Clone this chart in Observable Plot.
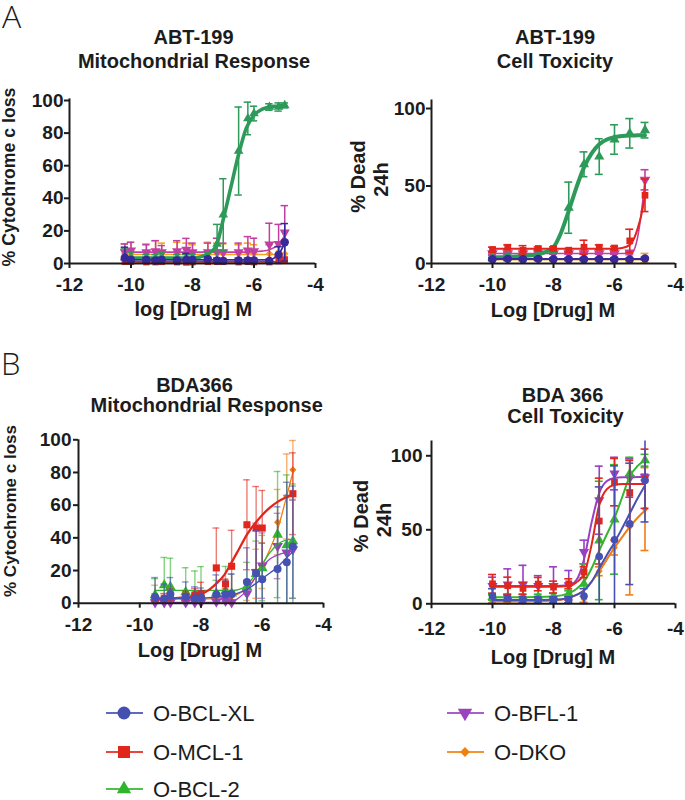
<!DOCTYPE html>
<html>
<head>
<meta charset="utf-8">
<script src="https://cdn.jsdelivr.net/npm/d3@7"></script>
<script src="https://cdn.jsdelivr.net/npm/@observablehq/plot@0.6"></script>
<style>
  html, body { margin: 0; padding: 0; background: #ffffff; }
  #root { position: relative; width: 685px; height: 800px; overflow: hidden; background: #fff; }
  #root svg.panel { position: absolute; overflow: visible; }
  #root svg.panel text { font-size: 19px !important; font-weight: bold !important; font-family: 'Liberation Sans', Arial, sans-serif !important; fill: #1c1c1c; }
  #overlay { position: absolute; left: 0; top: 0; pointer-events: none; }
</style>
</head>
<body>
<div id="root"></div>
<script>
// ---------------- series / legend ----------------
const seriesNames = ["O-BCL-XL", "O-MCL-1", "O-BCL-2", "O-BFL-1", "O-DKO"];
const colorsA = ["#38299a", "#e3241b", "#2e9a5a", "#c13fa3", "#f4a11c"];
const colorsB = ["#4651b4", "#e1261c", "#34b52f", "#9a3fc3", "#f17c12"];
const colorsLegend = ["#4350b0", "#e1261c", "#2fb52b", "#9b42bf", "#f08010"];
const xTicks = [-12, -10, -8, -6, -4];
const yTicksA1 = [0, 20, 40, 60, 80, 100];
const yTicksA2 = [0, 50, 100];
const yTicksB1 = [0, 20, 40, 60, 80, 100];
const yTicksB2 = [0, 50, 100];

// ---------------- Panel A left : ABT-199 Mitochondrial Response ----------------
const dosesA1 = [-10.2, -10, -9.5, -9.2, -9, -8.5, -8.2, -8, -7.5, -7.2, -7, -6.5, -6.2, -6, -5.5, -5.2, -5];
const a1XL     = [3.5, 2.2, 2.2, 1.8, 2.2, 1.8, 2.2, 2.2, 2.7, 1.8, 1.6, 1.8, 1.8, 1.8, 1.6, 5.3, 13];
const a1XLErr  = [6.5, 1.5, 1.5, 1.5, 1.5, 1.5, 4, 1.5, 1.5, 1.5, 1.5, 1.5, 1.5, 1.5, 1, 5, 11.5];
const a1MCL    = [1, 1, 0.8, 0.8, 1, 0.8, 0.6, 0.8, 1, 1, 1, 0.8, 1, 0.8, 0.8, 1.5, 2];
const a1MCLErr = [1.5, 1, 1, 1, 1, 1, 1.5, 1, 1, 1, 1, 1, 1, 1, 1, 2.5, 2];
const a1BCL2   = [4, 4, 3.5, 3.5, 4, 3.5, 3.5, 3.5, 4, 12, 30, 69, 89, 92, 96, 96, 97];
const a1BCL2Err= [5, 3, 2, 2, 2.5, 2, 2, 2, 3, 12, 22, 27, 10, 4.5, 2, 2.5, 1.5];
const a1BFL    = [7, 8, 7, 7.5, 7, 7.5, 8.4, 7, 7, 7, 7, 7, 8, 7.5, 11.7, 12, 19];
const a1BFLErr = [5, 5, 4.5, 6.5, 4, 6.5, 7, 5.5, 5.5, 8.5, 5.5, 5.5, 8.5, 8, 13, 12, 16.5];
const a1DKO    = [6, 6.5, 6, 7, 6.5, 6.5, 6, 6, 6.5, 6.5, 6, 6, 6.5, 6, 6, 7, 6];
const a1DKOErr = [6, 6.5, 6, 7, 6, 6.5, 6.5, 5.5, 6.5, 6, 6, 5.5, 6, 5.5, 5.5, 6, 6];
const gridA1   = [-10.2, -10, -9.5, -9, -8.5, -8, -7.75, -7.5, -7.25, -7, -6.75, -6.5, -6.25, -6, -5.75, -5.5, -5.25, -5];
const a1FitXL  = [2.2, 2.2, 2.2, 2.2, 2.2, 2.2, 2.2, 2.2, 2.2, 2.2, 2.2, 2.2, 2.2, 2.2, 2.2, 2.4, 4.5, 12.5];
const a1FitMCL = [1, 1, 1, 1, 1, 1, 1, 1, 1, 1, 1, 1, 1, 1, 1, 1, 1.2, 1.5];
const a1FitBCL2= [3.3, 3.3, 3.3, 3.3, 3.3, 3.4, 4, 6, 10, 27, 47, 67, 83, 91, 94.5, 96, 96.5, 97];
const a1FitBFL = [7, 7, 7, 7, 7, 7, 7, 7, 7, 7, 7, 7, 7, 7.2, 7.6, 8.5, 11, 17];
const a1FitDKO = [5.5, 5.5, 5.5, 5.5, 5.5, 5.5, 5.5, 5.5, 5.5, 5.5, 5.5, 5.5, 5.5, 5.5, 5.5, 5.5, 5.5, 5.5];

// ---------------- Panel A right : ABT-199 Cell Toxicity ----------------
const dosesA2 = [-10, -9.5, -9, -8.5, -8, -7.5, -7, -6.5, -6, -5.5, -5];
const a2XL     = [2.8, 3, 2.8, 3, 2.8, 2.8, 2.8, 2.8, 2.8, 2.6, 3.2];
const a2XLErr  = [0.8, 0.8, 0.8, 0.8, 0.8, 0.8, 0.8, 0.8, 0.8, 0.8, 0.8];
const a2MCL    = [9, 10.5, 8.5, 9.7, 9.7, 8.6, 10.5, 10.5, 10, 14.6, 44];
const a2MCLErr = [1.5, 1.5, 3, 1, 1, 1, 4.5, 1.5, 1, 7.5, 10.5];
const a2BCL2   = [4, 4.5, 4.5, 5, 8, 36, 64, 69, 80, 84, 86];
const a2BCL2Err= [1, 1, 1, 1, 1.5, 16.5, 8, 11.5, 9.5, 9.5, 5];
const a2BFL    = [6.5, 6.5, 6.5, 6.5, 6.5, 6.5, 6.5, 6.5, 6.5, 7, 54];
const a2BFLErr = [0.5, 0.5, 0.5, 0.5, 0.5, 0.5, 0.5, 0.5, 0.5, 0.8, 6.5];
const a2DKO    = [2.5, 2.5, 2.5, 2.5, 2.5, 2.5, 2.5, 2.5, 2.5, 3, 3.5];
const a2DKOErr = [1, 1, 1, 1, 1, 1, 1, 1, 1, 2.5, 3];
const gridA2   = [-10, -9.5, -9, -8.5, -8.25, -8, -7.75, -7.5, -7.25, -7, -6.75, -6.5, -6.25, -6, -5.75, -5.5, -5.4, -5.25, -5.1, -5];
const a2FitXL  = [2.9, 2.9, 2.9, 2.9, 2.9, 2.9, 2.9, 2.9, 2.9, 2.9, 2.9, 2.9, 2.9, 2.9, 2.9, 2.9, 2.9, 2.9, 2.9, 2.9];
const a2FitMCL = [9.5, 9.5, 9.5, 9.5, 9.5, 9.5, 9.5, 9.5, 9.5, 9.5, 9.5, 9.5, 9.5, 9.5, 10, 12, 14.5, 22, 33, 44];
const a2FitBCL2= [4, 4.2, 4.8, 6, 7.5, 10.5, 20, 34, 49, 62, 71, 77, 80, 81.5, 82.3, 82.6, 82.6, 82.7, 82.7, 82.7];
const a2FitBFL = [6.5, 6.5, 6.5, 6.5, 6.5, 6.5, 6.5, 6.5, 6.5, 6.5, 6.5, 6.5, 6.5, 6.5, 6.5, 6.6, 7.5, 16, 36, 54];
const a2FitDKO = [2.5, 2.5, 2.5, 2.5, 2.5, 2.5, 2.5, 2.5, 2.5, 2.5, 2.5, 2.5, 2.5, 2.5, 2.5, 2.5, 2.5, 2.5, 2.5, 2.5];

// ---------------- Panel B left : BDA366 Mitochondrial Response ----------------
const dosesB1 = [-9.5, -9.2, -9, -8.5, -8.2, -8, -7.5, -7.2, -7, -6.5, -6.2, -6, -5.5, -5.2, -5];
const b1XL     = [3.7, 2.7, 5.7, 4, 3, 3.3, 5.3, 5.3, 5.7, 12.9, 18.4, 14.7, 21, 25, 34.7];
const b1XLErr  = [12, 9, 10, 9, 7, 6, 12, 9, 12, 21, 26, 22, 38, 49, 37];
const b1MCL    = [2.7, 2.7, 3.7, 4.3, 5, 5.8, 21.6, 11.8, 22.6, 48, 46, 46, null, null, 67];
const b1MCLErr = [3, 3, 5, 3, 4, 7, 24.4, 3, 22, 27.5, 25.4, 23, null, null, 25];
const b1BCL2   = [5, 11, 10, 6.7, 5.7, 4.7, 6, 7.5, 6, 10, 18, 21.5, 42, 35.5, 38];
const b1BCL2Err= [10, 17, 17.5, 15, 14, 17.7, 8, 15, 12, 15, 20, 20, 38.6, 43, 35];
const b1BFL    = [0.5, 0.5, 0.5, 0.5, 0.5, 0.5, 1, 1.5, 0.5, 6, 19, 23, 35, 31, 33];
const b1BFLErr = [2, 2, 2, 2, 2, 2, 3, 3, 3, 8, 30, 20, 20, 35, 30];
const b1DKO    = [2, 2, 2.5, 2, 2, 2, 1, 1.5, 1.5, 5.7, 18, 23, 49.6, 65.3, 81.6];
const b1DKOErr = [9, 4, 4, 4, 4, 4, 3, 3, 3, 4, 15, 14, 20, 26, 18];
const gridB1   = [-9.5, -9, -8.5, -8, -7.75, -7.5, -7.25, -7, -6.75, -6.5, -6.25, -6, -5.75, -5.5, -5.25, -5];
const b1FitXL  = [3, 3, 3, 3.2, 3.4, 3.8, 4.3, 5, 6.5, 8.5, 11.5, 15, 18.5, 22, 27, 31.5];
const b1FitMCL = [2.5, 3, 3.5, 5.5, 8, 12, 17, 25, 33.5, 42, 48.5, 54, 58.5, 62, 64.5, 66.5];
const b1FitBCL2= [7.8, 7.8, 7.8, 7.8, 7.8, 7.8, 7.8, 7.8, 8.5, 11, 17, 24, 31, 36, 38.5, 39];
const b1FitBFL = [0.5, 0.5, 0.5, 0.5, 0.5, 0.5, 0.6, 1, 3.5, 8, 15, 22, 27, 29.5, 31, 32];
const b1FitDKO = [2.5, 2.5, 2.5, 2.5, 2.7, 3, 3.5, 4, 6, 9, 15, 23, 33, 45, 62, 80];

// ---------------- Panel B right : BDA 366 Cell Toxicity ----------------
const dosesB2 = [-10, -9.5, -9, -8.5, -8, -7.5, -7, -6.5, -6, -5.5, -5];
const b2XL     = [5.2, 3.6, 2.9, 2.7, 2.7, 2.7, 5.2, 32, 43.2, 54, 83.3];
const b2XLErr  = [5, 2, 2, 2, 2, 2, 5, 47, 50, 41, 28];
const b2MCL    = [13.5, 12.2, 10.4, 13.3, 11.3, 13.5, 21.4, 55.9, 82.2, 74.8, 84.5];
const b2MCLErr = [6.3, 5.8, 4, 4.5, 4, 3.4, 3.7, 29, 16, 22, 20];
const b2BCL2   = [4.5, 4.5, 4.5, 4.5, 5, 6.8, 13.5, 42.8, 57, 88, 97];
const b2BCL2Err= [2, 2, 2, 2, 2, 2, 13.5, 40, 37, 11, 4];
const b2BFL    = [12, 13, 13, 12, 12, 12.5, 35, 70, 88, 85, 85.6];
const b2BFLErr = [6, 10.6, 13, 7, 13, 10, 8, 23, 11, 13, 2];
const b2DKO    = [1.5, 1.5, 1.5, 1.5, 1.5, 1.5, 3, 22, 38, 52, 64];
const b2DKOErr = [1, 1, 1, 1, 1, 1, 2, 3, 5, 46, 28];
const gridB2   = [-10, -9, -8, -7.5, -7.25, -7, -6.75, -6.5, -6.25, -6, -5.75, -5.5, -5.25, -5];
const b2FitXL  = [2.5, 2.5, 2.7, 4, 6, 9, 15, 24, 33, 41.5, 51, 61, 71, 80];
const b2FitMCL = [11.5, 11.5, 11.5, 12, 14.5, 20, 40, 67, 77.5, 80.5, 81, 81, 81, 81];
const b2FitBCL2= [4.5, 4.5, 5, 7, 10, 15, 24, 36, 47, 58, 72, 86, 93, 97];
const b2FitBFL = [12, 12, 12, 12.5, 16, 30, 55, 75, 83, 85, 85.5, 85.5, 85.6, 85.6];
const b2FitDKO = [1.5, 1.5, 2, 4, 6, 9, 15, 22, 30, 38, 45, 52, 58, 63];

// ---------------- symbols ----------------
const triDown = {
  draw(context, size) {
    const s3 = Math.sqrt(3);
    const y = -Math.sqrt(size / (s3 * 3));
    context.moveTo(0, -y * 2);
    context.lineTo(-s3 * y, y);
    context.lineTo(s3 * y, y);
    context.closePath();
  }
};
const diamondSym = d3.symbolDiamond2 || d3.symbolDiamond;
const symbols = [d3.symbolCircle, d3.symbolSquare, d3.symbolTriangle, triDown, diamondSym];

const INK = "#1c1c1c";
const FONT = "'Liberation Sans', Arial, Helvetica, sans-serif";
const root = document.getElementById("root");

function panel(cfg) {
  const {left, top, width, height, x0, x4, y0, pxPerUnit, yMax, yTicks, doses, pts, errs, grid, fits,
         colors, lw, r, symScale, capHalf, barOpacity, barWidth, xPad, yPad} = cfg;
  const yTop = y0 - yMax * pxPerUnit;
  const marks = [];
  for (const i of [4, 3, 2, 1, 0]) {
    const p = doses.map((x, j) => ({x, y: pts[i][j], e: errs[i][j]})).filter(d => d.y != null);
    const c = grid.map((x, j) => ({x, y: fits[i][j]}));
    const bar = {stroke: colors[i], strokeWidth: barWidth, strokeOpacity: barOpacity};
    marks.push(Plot.ruleX(p, {x: "x", y1: d => Math.max(0, d.y - d.e), y2: d => Math.min(yMax, d.y + d.e), ...bar}));
    marks.push(Plot.ruleY(p.filter(d => d.y + d.e <= yMax), {y: d => d.y + d.e, x1: d => d.x - capHalf, x2: d => d.x + capHalf, ...bar}));
    marks.push(Plot.ruleY(p.filter(d => d.y - d.e > 0), {y: d => d.y - d.e, x1: d => d.x - capHalf, x2: d => d.x + capHalf, ...bar}));
    marks.push(Plot.line(c, {x: "x", y: "y", stroke: colors[i], strokeWidth: lw[i], curve: "monotone-x"}));
    marks.push(Plot.dot(p, {x: "x", y: "y", r: r * symScale[i], symbol: symbols[i], fill: colors[i], stroke: "none"}));
  }
  marks.push(Plot.ruleY([0], {stroke: INK, strokeWidth: 2}));
  marks.push(Plot.ruleX([-12], {y1: 0, y2: yMax, stroke: INK, strokeWidth: 2}));
  marks.push(Plot.axisX({ticks: xTicks, tickFormat: d => String(d), tickSize: 5, tickPadding: xPad,
    label: null, fontSize: 19, fontWeight: "bold", strokeWidth: 2}));
  marks.push(Plot.axisY({ticks: yTicks, tickFormat: d => String(d), tickSize: 5, tickPadding: yPad,
    label: null, fontSize: 19, fontWeight: "bold", strokeWidth: 2}));
  const svg = Plot.plot({
    width, height,
    marginLeft: x0 - left, marginRight: left + width - x4,
    marginTop: yTop - top, marginBottom: top + height - y0,
    x: {domain: [-12, -4]},
    y: {domain: [0, yMax]},
    style: {fontFamily: FONT, fontSize: "19px", fontWeight: "bold", color: INK, background: "transparent", overflow: "visible"},
    marks
  });
  svg.classList.add("panel");
  svg.style.left = left + "px";
  svg.style.top = top + "px";
  root.appendChild(svg);
}

panel({left: 0, top: 80, width: 340, height: 250, x0: 69, x4: 315, y0: 263, pxPerUnit: 1.63, yMax: 101,
  yTicks: yTicksA1, doses: dosesA1,
  pts: [a1XL, a1MCL, a1BCL2, a1BFL, a1DKO], errs: [a1XLErr, a1MCLErr, a1BCL2Err, a1BFLErr, a1DKOErr],
  grid: gridA1, fits: [a1FitXL, a1FitMCL, a1FitBCL2, a1FitBFL, a1FitDKO],
  colors: colorsA, lw: [1.8, 1.8, 3.6, 1.6, 1.5], r: 4.2, symScale: [1, 0.85, 0.85, 0.9, 0.8],
  capHalf: 0.12, barOpacity: 1, barWidth: 1.5, xPad: 9, yPad: 1});

panel({left: 340, top: 80, width: 345, height: 250, x0: 431, x4: 675, y0: 263, pxPerUnit: 1.55, yMax: 105.5,
  yTicks: yTicksA2, doses: dosesA2,
  pts: [a2XL, a2MCL, a2BCL2, a2BFL, a2DKO], errs: [a2XLErr, a2MCLErr, a2BCL2Err, a2BFLErr, a2DKOErr],
  grid: gridA2, fits: [a2FitXL, a2FitMCL, a2FitBCL2, a2FitBFL, a2FitDKO],
  colors: colorsA, lw: [1.8, 2, 4, 1.6, 1.5], r: 4.2, symScale: [1, 0.9, 0.9, 0.95, 0.8],
  capHalf: 0.13, barOpacity: 1, barWidth: 1.6, xPad: 9, yPad: 1});

panel({left: 0, top: 420, width: 340, height: 240, x0: 78, x4: 323, y0: 602.7, pxPerUnit: 1.634, yMax: 100,
  yTicks: yTicksB1, doses: dosesB1,
  pts: [b1XL, b1MCL, b1BCL2, b1BFL, b1DKO], errs: [b1XLErr, b1MCLErr, b1BCL2Err, b1BFLErr, b1DKOErr],
  grid: gridB1, fits: [b1FitXL, b1FitMCL, b1FitBCL2, b1FitBFL, b1FitDKO],
  colors: colorsB, lw: [1.3, 2.3, 1.3, 1.3, 1.3], r: 4, symScale: [1, 1, 1, 1, 0.8],
  capHalf: 0.11, barOpacity: 0.6, barWidth: 1.4, xPad: 9, yPad: 2});

panel({left: 340, top: 420, width: 345, height: 240, x0: 431, x4: 675, y0: 603.3, pxPerUnit: 1.48, yMax: 110,
  yTicks: yTicksB2, doses: dosesB2,
  pts: [b2XL, b2MCL, b2BCL2, b2BFL, b2DKO], errs: [b2XLErr, b2MCLErr, b2BCL2Err, b2BFLErr, b2DKOErr],
  grid: gridB2, fits: [b2FitXL, b2FitMCL, b2FitBCL2, b2FitBFL, b2FitDKO],
  colors: colorsB, lw: [2, 2, 2, 2, 2], r: 3.8, symScale: [1, 1, 1, 1, 0.8],
  capHalf: 0.13, barOpacity: 1, barWidth: 1.6, xPad: 13, yPad: 4});

// ---------------- overlay texts & legend ----------------
const ov = d3.select(root).append("svg").attr("id", "overlay").attr("width", 685).attr("height", 800);
function txt(s, x, y, size, opts = {}) {
  const t = ov.append("text").attr("x", x).attr("y", y).text(s)
    .attr("font-family", opts.family || FONT).attr("font-size", size)
    .attr("font-weight", opts.weight || "bold").attr("fill", INK)
    .attr("text-anchor", opts.anchor || "middle");
  if (opts.rotate) t.attr("transform", `rotate(-90 ${x} ${y})`);
  return t;
}
// panel letters
txt("A", 2, 28, 32, {family: "'Open Sans', sans-serif", weight: 300, anchor: "start"});
txt("B", 1, 375, 31, {family: "'Open Sans', sans-serif", weight: 300, anchor: "start"});
// titles
txt("ABT-199", 193.5, 44, 20);
txt("Mitochondrial Response", 194, 68, 20);
txt("ABT-199", 555, 44, 20);
txt("Cell Toxicity", 555, 68, 20);
txt("BDA366", 194.5, 391.7, 20);
txt("Mitochondrial Response", 206.7, 411.7, 20);
txt("BDA 366", 562.5, 401.7, 20);
txt("Cell Toxicity", 565.5, 422.7, 20);
// x labels
txt("log [Drug] M", 193.3, 316, 20);
txt("Log [Drug] M", 553, 316.5, 20);
txt("Log [Drug] M", 200, 657, 20);
txt("Log [Drug] M", 553, 664, 20);
// y labels
txt("% Cytochrome c loss", 14.5, 177, 17.7, {rotate: true});
txt("% Dead", 365, 176.5, 20, {rotate: true});
txt("24h", 388, 179.5, 20, {rotate: true});
txt("% Cytochrome c loss", 15.5, 511, 17, {rotate: true});
txt("% Dead", 368, 516, 20, {rotate: true});
txt("24h", 391, 520, 20, {rotate: true});

// legend
const legendCols = [106, 106, 106, 447, 447];
const legendRows = [713, 752, 789, 713, 752];
const legendSizes = [133, 144, 90, 90, 62];
seriesNames.forEach((name, i) => {
  const x = legendCols[i], y = legendRows[i];
  const g = ov.append("g");
  g.append("line").attr("x1", x).attr("x2", x + 37).attr("y1", y).attr("y2", y)
    .attr("stroke", colorsLegend[i]).attr("stroke-width", 2).attr("stroke-opacity", 0.85);
  g.append("path").attr("transform", `translate(${x + 18},${y})`)
    .attr("d", d3.symbol().type(symbols[i]).size(legendSizes[i])()).attr("fill", colorsLegend[i]);
  g.append("text").attr("x", x + 47).attr("y", y).attr("dy", "0.35em").text(name)
    .attr("font-family", FONT).attr("font-size", 22).attr("fill", INK);
});
</script>
</body>
</html>
